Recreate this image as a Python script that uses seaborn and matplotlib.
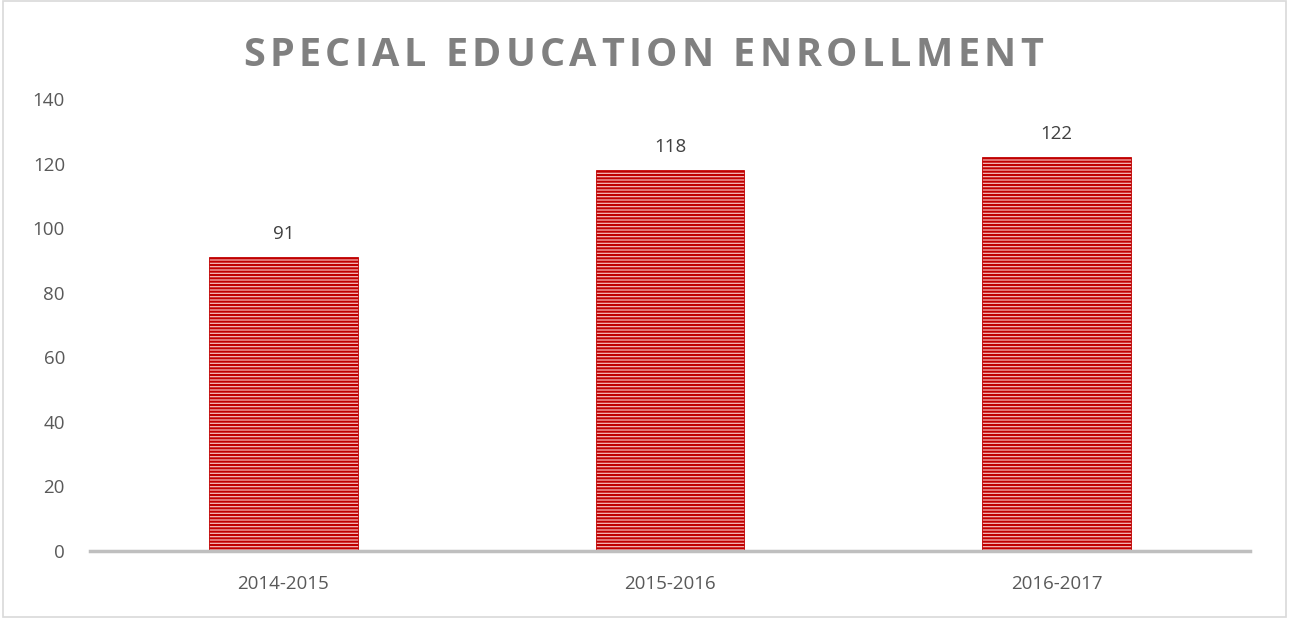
import matplotlib
matplotlib.use("Agg")
import matplotlib.pyplot as plt
import seaborn as sns
import pandas as pd
from matplotlib.patches import Rectangle

# --- Datos ---
years = ["2014-2015", "2015-2016", "2016-2017"]
enrollment = [91, 118, 122]
y_ticks = [0, 20, 40, 60, 80, 100, 120, 140]
TITLE = "SPECIAL EDUCATION ENROLLMENT"

df = pd.DataFrame({"year": years, "enrollment": enrollment})

sns.set_theme(style="white")
plt.rcParams["font.family"] = ["Open Sans", "DejaVu Sans"]
plt.rcParams["hatch.linewidth"] = 1.5

fig = plt.figure(figsize=(12.89, 6.18), dpi=100)
ax = fig.add_axes([0.0698, 0.1084, 0.8999, 0.7314])

sns.barplot(data=df, x="year", y="enrollment", ax=ax, width=0.385,
            color="#F5B8B8", saturation=1, edgecolor="#C00000", linewidth=0.6)
for bar in ax.patches:
    bar.set_hatch("-----")

for i, v in enumerate(enrollment):
    ax.annotate(str(v), (i, v), xytext=(0, 10), textcoords="offset points",
                ha="center", va="bottom", fontsize=13.5, color="#404040")

ax.set_xlim(-0.5, 2.5)
ax.set_ylim(0, 140)
ax.set_yticks(y_ticks)
ax.set_xlabel("")
ax.set_ylabel("")
ax.tick_params(axis="both", length=0, labelsize=13.5, labelcolor="#595959")
ax.tick_params(axis="y", pad=18)
ax.tick_params(axis="x", pad=17)
for side in ["top", "right", "left"]:
    ax.spines[side].set_visible(False)
ax.spines["bottom"].set_color("#BFBFBF")
ax.spines["bottom"].set_linewidth(2.5)

# título con espaciado entre letras (cada letra como texto)
renderer = fig.canvas.get_renderer()
letters = []
widths = []
for ch in TITLE:
    t = fig.text(0, 0.911, ch if ch != " " else "\u00a0", ha="left", va="center",
                 fontsize=28.5, fontweight="bold", color="#808080")
    letters.append(t)
    w = t.get_window_extent(renderer).width
    widths.append(w if ch != " " else 10)
total_px = 800
tracking = (total_px - sum(widths)) / (len(TITLE) - 1)
x = 643 - total_px / 2
for t, w in zip(letters, widths):
    t.set_x(x / fig.bbox.width)
    x += w + tracking

# marco del gráfico
fig.patches.append(Rectangle((0.002, 0.002), 0.996, 0.996, transform=fig.transFigure,
                             fill=False, edgecolor="#D9D9D9", linewidth=1.2))

fig.savefig("out.png", dpi=100)
plt.close(fig)
